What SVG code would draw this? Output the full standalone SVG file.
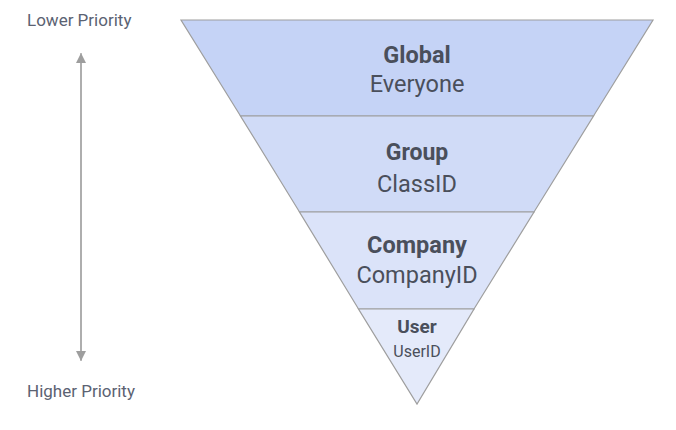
<svg xmlns="http://www.w3.org/2000/svg" width="676" height="430" viewBox="0 0 676 430">
<defs>
<style>
.band{stroke:#9e9e9e;stroke-width:1.2}
.t{font-family:Roboto,"Liberation Sans",sans-serif;fill:#4a4f5b;text-anchor:middle}
.b{font-weight:bold}
.side{font-family:Roboto,"Liberation Sans",sans-serif;fill:#5b6272;font-size:17px}
</style>
<marker id="ah" viewBox="0 0 10 10" refX="10" refY="5" markerWidth="10" markerHeight="10" markerUnits="userSpaceOnUse" orient="auto">
<path d="M0,0 L10,5 L0,10 z" fill="#9e9e9e"/>
</marker>
</defs>
<rect width="676" height="430" fill="#fff"/>
<g id="global">
<polygon class="band" points="181,20 653,20 593.5,116 240.5,116" fill="#c5d3f6"/>
<text class="t b" x="417" y="63" font-size="23.5">Global</text>
<text class="t" x="417" y="92" font-size="23.5">Everyone</text>
</g>
<g id="group">
<polygon class="band" points="240.5,116 593.5,116 534,212 299.5,212" fill="#d0dbf7"/>
<text class="t b" x="417" y="160" font-size="23">Group</text>
<text class="t" x="417" y="192" font-size="23.5">ClassID</text>
</g>
<g id="company">
<polygon class="band" points="299.5,212 534,212 474,309 358.5,309" fill="#dbe3f9"/>
<text class="t b" x="417" y="253" font-size="23.5">Company</text>
<text class="t" x="417" y="283" font-size="23.5">CompanyID</text>
</g>
<g id="user">
<polygon class="band" points="358.5,309 474,309 417,404" fill="#e4eafa"/>
<text class="t b" x="417" y="333" font-size="19">User</text>
<text class="t" x="417" y="357" font-size="16">UserID</text>
</g>
<g id="connectors">
<line x1="81" y1="360" x2="81" y2="53" stroke="#9e9e9e" stroke-width="1.2" marker-end="url(#ah)"/>
<line x1="81" y1="60" x2="81" y2="361" stroke="#9e9e9e" stroke-width="1.2" marker-end="url(#ah)"/>
</g>
<g id="labels">
<text class="side" x="27" y="26">Lower Priority</text>
<text class="side" x="27" y="397">Higher Priority</text>
</g>
</svg>
